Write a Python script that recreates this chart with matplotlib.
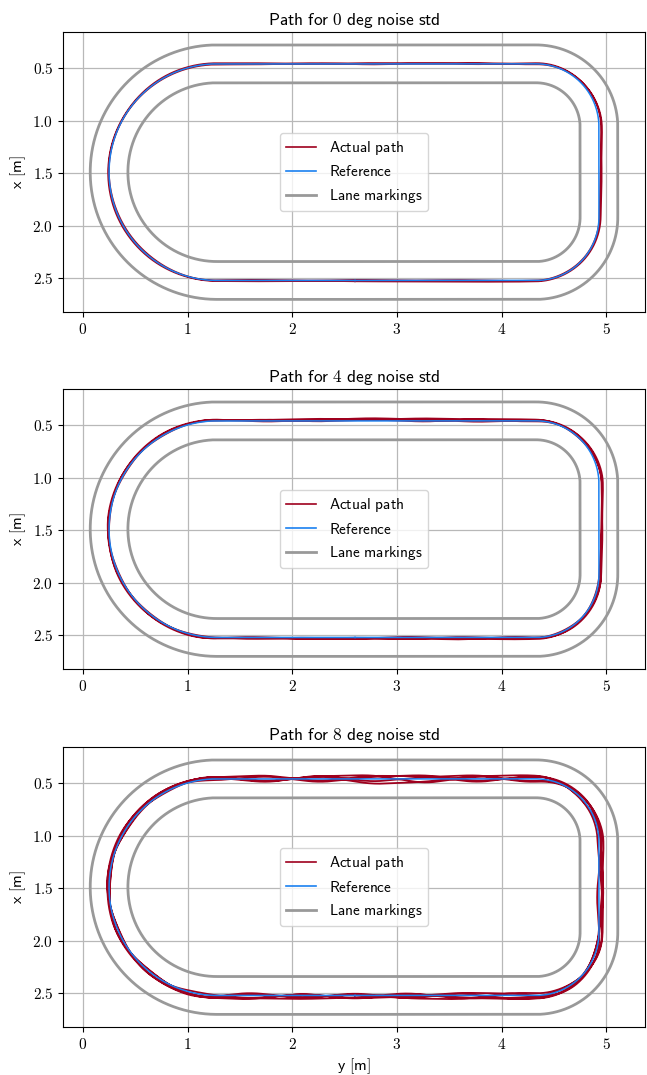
import numpy as np
import matplotlib
matplotlib.use("Agg")
import matplotlib.pyplot as plt
from matplotlib.ticker import FuncFormatter
from matplotlib.lines import Line2D

plt.rcParams['mathtext.fontset'] = 'cm'

# ---------------- data ----------------
TITLES = [r"$\mathsf{Path\ for\ 0\ deg\ noise\ std}$",
          r"$\mathsf{Path\ for\ 4\ deg\ noise\ std}$",
          r"$\mathsf{Path\ for\ 8\ deg\ noise\ std}$"]
XLABEL = r"$\mathsf{y\ [m]}$"
YLABEL = r"$\mathsf{x\ [m]}$"
LEG_LABELS = [r"$\mathsf{Actual\ path}$", r"$\mathsf{Reference}$", r"$\mathsf{Lane\ markings}$"]
XTICKS = [0, 1, 2, 3, 4, 5]
YTICKS = [0.5, 1.0, 1.5, 2.0, 2.5]

# track geometry (reference centre line), metres
Y_LEFT_CENTER = 1.28
X_MID = 1.49
R_LEFT = 1.03
Y_RIGHT_CENTER = 4.33
X_RIGHT_TOP = 1.06
X_RIGHT_BOT = 1.92
R_CORNER = 0.60
LANE_OFFSETS = [0.18, -0.18]
Y_START = 2.60

# lateral deviation (m, + = outward) of the actual path, 24 stations per lap
DEV_0 = [
    [0.008, 0.010, 0.012, 0.012, 0.004, 0.012, 0.026, 0.022, 0.010, 0.006, -0.004, 0.006,
     0.008, 0.000, 0.006, 0.006, 0.008, 0.004, 0.008, 0.010, 0.008, 0.004, 0.008, 0.006],
    [-0.006, 0.002, -0.004, 0.006, -0.006, 0.002, 0.014, 0.030, 0.008, -0.006, 0.010, 0.004,
     -0.006, 0.006, -0.004, -0.006, -0.004, 0.000, 0.004, -0.006, -0.008, 0.002, -0.006, 0.000],
]
DEV_4 = [
    [0.012, 0.016, -0.006, 0.012, -0.008, 0.016, 0.034, 0.026, 0.012, -0.008, 0.014, 0.024,
     0.012, -0.006, 0.012, 0.002, 0.012, -0.006, 0.012, 0.008, -0.006, 0.010, 0.008, 0.014],
    [0.014, -0.008, 0.012, 0.018, 0.010, -0.006, 0.026, 0.040, 0.014, 0.006, -0.010, 0.012,
     0.026, 0.010, -0.008, 0.014, -0.004, 0.010, 0.016, -0.006, 0.010, 0.014, -0.006, 0.012],
    [0.002, 0.012, 0.020, -0.008, 0.014, 0.020, 0.020, 0.032, -0.004, 0.014, 0.018, -0.008,
     0.014, 0.020, 0.008, 0.010, 0.016, 0.010, -0.002, 0.014, 0.010, -0.006, 0.012, 0.002],
]
DEV_8 = [
    [0.020, -0.024, 0.030, 0.024, -0.012, 0.028, 0.040, 0.022, -0.014, 0.030, -0.034, 0.026,
     0.030, -0.022, 0.034, 0.014, 0.020, -0.012, 0.014, 0.022, -0.012, 0.020, -0.012, 0.022],
    [-0.012, 0.030, -0.022, 0.034, 0.022, -0.016, 0.028, 0.046, 0.012, -0.034, 0.030, -0.028,
     -0.050, 0.028, -0.022, 0.020, -0.010, 0.022, 0.018, -0.010, 0.024, -0.020, 0.028, -0.014],
    [0.028, 0.012, -0.026, -0.018, 0.028, 0.014, -0.022, 0.028, 0.022, 0.020, -0.022, 0.036,
     0.020, -0.034, 0.026, -0.016, 0.022, 0.014, -0.014, 0.020, 0.014, 0.030, -0.028, 0.026],
    [-0.022, 0.028, 0.036, -0.026, -0.016, 0.034, 0.032, -0.014, -0.012, 0.036, 0.026, -0.042,
     0.036, 0.026, -0.028, 0.022, 0.006, -0.016, 0.024, -0.014, 0.020, 0.018, 0.036, -0.018],
    [0.034, -0.018, 0.018, 0.036, 0.014, -0.016, 0.046, 0.014, 0.020, -0.026, 0.036, 0.018,
     -0.028, 0.036, -0.034, 0.014, 0.018, 0.018, -0.012, 0.022, -0.016, 0.024, 0.026, 0.034],
]
DEVS = [DEV_0, DEV_4, DEV_8]

# ---------------- styles ----------------
C_ACT = '#9E001E'
C_REF = '#1A80F0'
C_LANE = '#999999'


def build(off, ds=0.004):
    rl = R_LEFT + off
    rc = R_CORNER + off
    Ys, Xs, NYs, NXs = [], [], [], []

    def straight(y0, x0, y1, x1, ny, nx):
        n = max(int(np.hypot(y1 - y0, x1 - x0) / ds), 2)
        t = np.linspace(0, 1, n, endpoint=False)
        Ys.append(y0 + (y1 - y0) * t); Xs.append(x0 + (x1 - x0) * t)
        NYs.append(np.full(n, ny)); NXs.append(np.full(n, nx))

    def arc(cy, cx, r, a0, a1):
        n = max(int(abs(a1 - a0) * r / ds), 2)
        a = np.linspace(a0, a1, n, endpoint=False)
        Ys.append(cy + r * np.sin(a)); Xs.append(cx + r * np.cos(a))
        NYs.append(np.sin(a)); NXs.append(np.cos(a))

    xb = X_MID + rl
    xt = X_MID - rl
    straight(Y_START, xb, Y_RIGHT_CENTER, xb, 0, 1)
    arc(Y_RIGHT_CENTER, X_RIGHT_BOT, rc, 0, np.pi / 2)
    straight(Y_RIGHT_CENTER + rc, X_RIGHT_BOT, Y_RIGHT_CENTER + rc, X_RIGHT_TOP, 1, 0)
    arc(Y_RIGHT_CENTER, X_RIGHT_TOP, rc, np.pi / 2, np.pi)
    straight(Y_RIGHT_CENTER, xt, Y_LEFT_CENTER, xt, 0, -1)
    arc(Y_LEFT_CENTER, X_MID, rl, np.pi, 2 * np.pi)
    straight(Y_LEFT_CENTER, xb, Y_START, xb, 0, 1)
    Y = np.concatenate(Ys); X = np.concatenate(Xs)
    Y = np.append(Y, Y[0]); X = np.append(X, X[0])
    NY = np.append(np.concatenate(NYs), NYs[0][0])
    NX = np.append(np.concatenate(NXs), NXs[0][0])
    S = np.concatenate([[0], np.cumsum(np.hypot(np.diff(Y), np.diff(X)))])
    return Y, X, NY, NX, S


def actual_path(laps, ds=0.004):
    Yr, Xr, NYr, NXr, Sr = build(0.0)
    L = Sr[-1]
    dev = np.concatenate([np.asarray(l, float) for l in laps])
    n_st = len(laps[0])
    total = len(laps) * L
    st = np.arange(len(dev)) * L / n_st
    s = np.arange(0, total, ds)
    d = np.interp(s, st, dev, period=total)
    w = 61
    dp = np.concatenate([d[-w:], d, d[:w]])
    d = np.convolve(dp, np.ones(w) / w, mode='same')[w:-w]
    sm = np.mod(s, L)
    y = np.interp(sm, Sr, Yr) + d * np.interp(sm, Sr, NYr)
    x = np.interp(sm, Sr, Xr) + d * np.interp(sm, Sr, NXr)
    return y, x


fig = plt.figure(figsize=(6.47, 10.75), dpi=100)
tops = [32, 389, 747]
for i, top in enumerate(tops):
    ax = fig.add_axes([63 / 647, 1 - (top + 280) / 1075, 582 / 647, 280 / 1075])
    ax.set_axisbelow(True)
    ax.grid(True, color='#b8b8b8', lw=0.9)
    for off in LANE_OFFSETS:
        Yl, Xl, _, _, _ = build(off)
        ax.plot(Yl, Xl, color=C_LANE, lw=2.0, zorder=2, solid_capstyle='butt')
    ya, xa = actual_path(DEVS[i])
    ax.plot(ya, xa, color=C_ACT, lw=1.3, zorder=3)
    Yr, Xr, _, _, _ = build(0.0)
    ax.plot(Yr, Xr, color=C_REF, lw=1.1, zorder=4)
    ax.set_xlim(-0.19, 5.37)
    ax.set_ylim(2.82, 0.157)
    ax.set_xticks(XTICKS)
    ax.set_yticks(YTICKS)
    ax.xaxis.set_major_formatter(FuncFormatter(lambda v, p: f"${v:g}$"))
    ax.yaxis.set_major_formatter(FuncFormatter(lambda v, p: f"${v:.1f}$"))
    ax.tick_params(labelsize=11)
    ax.set_title(TITLES[i], fontsize=12.5, pad=5)
    ax.set_ylabel(YLABEL, fontsize=11.5, labelpad=3)
    if i == 2:
        ax.set_xlabel(XLABEL, fontsize=11.5, labelpad=3)
    handles = [Line2D([], [], color=C_ACT, lw=1.2),
               Line2D([], [], color=C_REF, lw=1.2),
               Line2D([], [], color=C_LANE, lw=2.0)]
    ax.legend(handles, LEG_LABELS, loc='center', fontsize=11)

fig.savefig("out.png", dpi=100)
